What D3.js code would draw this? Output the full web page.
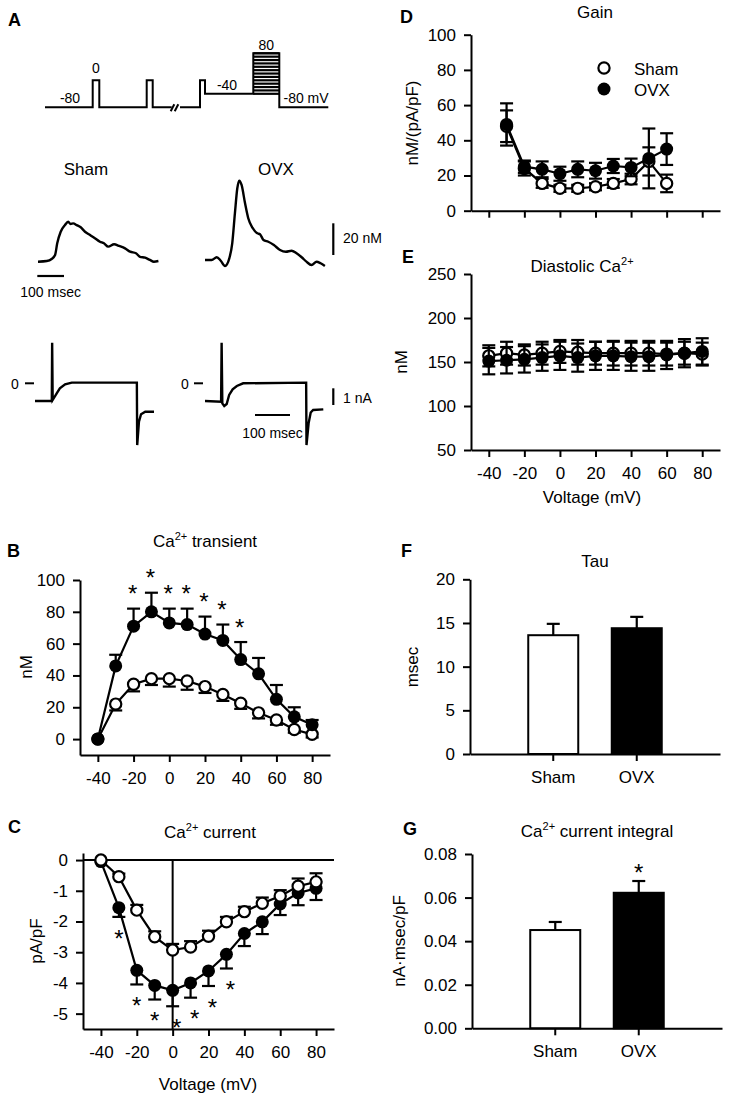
<!DOCTYPE html>
<html>
<head>
<meta charset="utf-8">
<script src="https://cdn.jsdelivr.net/npm/d3@7"></script>
<style>
  body { margin: 0; background: #fff; }
</style>
</head>
<body>
<div id="chart"></div>
<script>
// figure data
var volt = [-40, -30, -20, -10, 0, 10, 20, 30, 40, 50, 60, 70, 80];
var vTicks = [-40, -20, 0, 20, 40, 60, 80];

// B: Ca transient (nM)
var bSham = [0, 22, 34.5, 38, 38, 36.5, 33, 28, 22.5, 16.5, 12, 6, 3];
var bShamErr = [0, 4, 4.5, 4, 5, 5.5, 4, 4, 3.5, 3.5, 3, 2, 2];
var bOvx = [0, 46, 71, 80, 73, 72, 66, 62, 50, 41, 25, 14, 9];
var bOvxErr = [0, 7, 11, 12, 9, 10, 11, 10, 11, 10, 9, 6, 3];
var bStars = [-20, -10, 0, 10, 20, 30, 40];

// C: Ca current (pA/pF)
var cSham = [0, -0.54, -1.63, -2.5, -2.93, -2.83, -2.48, -2.01, -1.68, -1.41, -1.17, -0.85, -0.71];
var cShamErr = [0, 0.1, 0.17, 0.18, 0.2, 0.19, 0.18, 0.16, 0.16, 0.19, 0.19, 0.25, 0.28];
var cOvx = [-0.05, -1.55, -3.59, -4.08, -4.24, -4.0, -3.61, -3.07, -2.39, -2.01, -1.43, -1.07, -0.92];
var cOvxErr = [0, 0.3, 0.46, 0.46, 0.52, 0.48, 0.49, 0.46, 0.41, 0.4, 0.36, 0.4, 0.38];
var cStars = [-30, -20, -10, 0, 10, 20, 30];

// D: gain
var dVolt = [-30, -20, -10, 0, 10, 20, 30, 40, 50, 60];
var dSham = [48, 24, 15.5, 12.7, 12.7, 13.6, 15.5, 18, 28, 15.5];
var dShamErr = [9, 4, 2.5, 2, 2, 2, 2.5, 3, 8, 5];
var dOvx = [49, 25, 23.5, 21, 23.5, 22.7, 25.4, 24.6, 29.7, 35];
var dOvxErr = [12, 3.5, 4.5, 4, 4.5, 4.5, 4, 5, 17, 9];

// E: diastolic Ca (nM)
var eSham = [157, 160, 158, 160, 162, 161, 160, 160, 160, 160, 159, 160, 159];
var eShamErr = [12, 13, 12, 13, 13, 14, 13, 14, 14, 14, 13, 13, 13];
var eOvx = [151, 152, 153, 155, 157, 155, 157, 157, 156, 156, 158, 160, 162];
var eOvxErr = [15, 15, 15, 15, 16, 16, 16, 16, 16, 16, 16, 16, 15];

// F, G: bars
var groups = ["Sham", "OVX"];
var tauMean = [13.6, 14.4];
var tauErr = [1.3, 1.3];
var intMean = [0.0451, 0.0622];
var intErr = [0.0037, 0.0054];
var intStars = ["OVX"];

// A: protocol [time, mV]
var protoA = [[0, -80], [47.7, -80], [47.7, 0], [54.3, 0], [54.3, -80], [101.7, -80], [101.7, 0], [107.7, 0], [107.7, -80], [126.7, -80]];
var protoB = [[135, -80], [155, -80], [155, 0], [160, 0], [160, -40], [208.3, -40], [208.3, 80], [234.3, 80], [234.3, -80], [283.3, -80]];
var stepLevels = [-40, -30, -20, -10, 0, 10, 20, 30, 40, 50, 60, 70, 80];

// A: example traces [msec, nM] and [msec, nA]
var trShamCa = [[0, 0.2], [33, 0.6], [51, 1.9], [64, 4.4], [72, 11.8], [85, 19.1], [101, 23.3], [113, 25.4], [122, 24], [132, 24.4], [145, 23.3], [160, 21.9], [176, 19.1], [195, 17], [213, 15], [232, 12.8], [247, 11.8], [263, 9.7], [285, 11.2], [304, 10.1], [326, 8.6], [345, 6.5], [367, 5.5], [382, 3.3], [401, 2.7], [419, 1.3], [434, 0.2], [451, 0.6]];
var trOvxCa = [[0, 1.3], [25, 1.3], [44, 3], [59, 0.8], [75, -2.5], [91, 2.3], [102, 11.8], [112, 30.7], [121, 46.5], [128, 51.3], [137, 48.6], [150, 37], [162, 27.6], [179, 21.3], [196, 18.1], [206, 17.5], [219, 13.9], [237, 12.8], [258, 10.7], [281, 7.6], [303, 6.5], [324, 7.1], [343, 5.5], [362, 3], [380, 0.2], [399, -1.9], [418, 0.2], [433, -0.8], [449, -2.5]];
var trShamI = [[0, -1.06], [48, -1.06], [49, 2.43], [50.5, -1.0], [55, -0.85], [62, -0.6], [71, -0.3], [86, -0.06], [105, 0.04], [291, 0.04], [292, -3.7], [297, -2.3], [303, -1.85], [315, -1.7], [340, -1.7]];
var trOvxI = [[0, -1.06], [46, -1.1], [47.5, 2.43], [49.5, -1.2], [55, -1.36], [62, -1.24], [69, -0.7], [79, -0.36], [91, -0.16], [109, 0], [289, 0.04], [290, -3.7], [296, -2.4], [302, -1.75], [309, -1.6], [338, -1.56]];

var FONT = "'Liberation Sans', Arial, Helvetica, sans-serif";
var plain = function(d) { return String(d); };

var svg = d3.select("#chart").append("svg")
  .attr("width", 730).attr("height", 1103)
  .style("display", "block")
  .attr("font-family", FONT);

svg.append("rect").attr("width", 730).attr("height", 1103).attr("fill", "#fff");

function label(x, y, txt, size, opts) {
  opts = opts || {};
  return svg.append("text")
    .attr("x", x).attr("y", y)
    .attr("font-size", size)
    .attr("font-weight", opts.bold ? "bold" : null)
    .attr("text-anchor", opts.anchor || "start")
    .attr("fill", "#000")
    .text(txt);
}

// "pre Ca2+ rest" with a superscript
function caLabel(x, y, pre, rest) {
  var t = svg.append("text").attr("x", x).attr("y", y)
    .attr("font-size", 17).attr("text-anchor", "middle").attr("fill", "#000");
  t.append("tspan").text(pre + "Ca");
  t.append("tspan").attr("dy", -7).attr("font-size", 11).text("2+");
  if (rest) t.append("tspan").attr("dy", 7).text(rest);
  return t;
}

function yTitle(x, y, txt) {
  svg.append("text")
    .attr("transform", "translate(" + x + "," + y + ") rotate(-90)")
    .attr("font-size", 17).attr("text-anchor", "middle").attr("fill", "#000")
    .text(txt);
}

function styleAxis(g) {
  g.attr("font-family", FONT).attr("font-size", 17);
  g.select(".domain").attr("stroke-width", 2);
  g.selectAll(".tick line").attr("stroke-width", 2);
  g.selectAll(".tick text").attr("fill", "#000");
}

function star(x, cy) {
  // asterisk centre ~0.57em above baseline
  svg.append("text").attr("x", x).attr("y", cy + 0.57 * 24)
    .attr("font-size", 24).attr("text-anchor", "middle").text("*");
}

// draws one series: line, error bars, markers
function series(g, x, y, xs, vals, errs, dir, open) {
  var pts = xs.map(function(v, i) { return {v: v, m: vals[i], e: errs[i]}; });
  g.append("path")
    .datum(pts)
    .attr("fill", "none").attr("stroke", "#000").attr("stroke-width", 2.2)
    .attr("d", d3.line().x(function(d) { return x(d.v); }).y(function(d) { return y(d.m); }));
  var cap = 6.5;
  pts.forEach(function(d) {
    if (!d.e) return;
    var lo = dir === "up" ? d.m : d.m - d.e;
    var hi = dir === "down" ? d.m : d.m + d.e;
    g.append("line").attr("x1", x(d.v)).attr("x2", x(d.v))
      .attr("y1", y(lo)).attr("y2", y(hi)).attr("stroke", "#000").attr("stroke-width", 2.2);
    if (dir !== "down") g.append("line").attr("x1", x(d.v) - cap).attr("x2", x(d.v) + cap)
      .attr("y1", y(hi)).attr("y2", y(hi)).attr("stroke", "#000").attr("stroke-width", 2.2);
    if (dir !== "up") g.append("line").attr("x1", x(d.v) - cap).attr("x2", x(d.v) + cap)
      .attr("y1", y(lo)).attr("y2", y(lo)).attr("stroke", "#000").attr("stroke-width", 2.2);
  });
  g.selectAll(null).data(pts).enter().append("circle")
    .attr("cx", function(d) { return x(d.v); })
    .attr("cy", function(d) { return y(d.m); })
    .attr("r", open ? 5.6 : 6.5)
    .attr("fill", open ? "#fff" : "#000")
    .attr("stroke", "#000").attr("stroke-width", open ? 2.2 : 0);
}

/********** A **********/
label(8, 26, "A", 18, {bold: true});
var xP = d3.scaleLinear().domain([0, 283.3]).range([45, 328.3]);
var yP = d3.scaleLinear().domain([-80, 80]).range([107.3, 53.3]);
var protoLine = d3.line().x(function(d) { return xP(d[0]); }).y(function(d) { return yP(d[1]); });
[protoA, protoB].forEach(function(p) {
  svg.append("path").attr("d", protoLine(p)).attr("fill", "none")
    .attr("stroke", "#000").attr("stroke-width", 2);
});
// hatched step family
stepLevels.forEach(function(v) {
  svg.append("line").attr("x1", xP(208.3)).attr("x2", xP(234.3))
    .attr("y1", yP(v)).attr("y2", yP(v)).attr("stroke", "#000").attr("stroke-width", 2.2);
});
// break marks
[127.5, 131.5].forEach(function(t) {
  svg.append("line").attr("x1", xP(t) - 1.8).attr("x2", xP(t) + 1.8)
    .attr("y1", yP(-80) + 4).attr("y2", yP(-80) - 3).attr("stroke", "#000").attr("stroke-width", 2);
});
label(xP(25), yP(-80) - 4, "-80", 14, {anchor: "middle"});
label(xP(51), yP(0) - 7, "0", 14, {anchor: "middle"});
label(xP(182), yP(-40) - 4, "-40", 14, {anchor: "middle"});
label(xP(221.3), yP(80) - 3, "80", 14, {anchor: "middle"});
label(xP(238.5), yP(-80) - 4.5, "-80 mV", 14);

label(86, 175, "Sham", 17, {anchor: "middle"});
label(276, 175, "OVX", 17, {anchor: "middle"});

// Ca transient traces
var caY = d3.scaleLinear().domain([0, 20]).range([262, 230.3]);
function caX(x0) { return d3.scaleLinear().domain([0, 100]).range([x0, x0 + 26.7]); }
[[trShamCa, 38], [trOvxCa, 205]].forEach(function(t) {
  var xs = caX(t[1]);
  svg.append("path").attr("d", d3.line().curve(d3.curveMonotoneX)
      .x(function(d) { return xs(d[0]); }).y(function(d) { return caY(d[1]); })(t[0]))
    .attr("fill", "none").attr("stroke", "#000").attr("stroke-width", 2.4);
});
// scale bars
var sx = caX(37.3);
svg.append("line").attr("x1", sx(0)).attr("x2", sx(100)).attr("y1", 276).attr("y2", 276)
  .attr("stroke", "#000").attr("stroke-width", 2.2);
label(sx(50), 297, "100 msec", 14, {anchor: "middle"});
svg.append("line").attr("x1", 333.3).attr("x2", 333.3).attr("y1", 255).attr("y2", 255 - (caY(0) - caY(20)))
  .attr("stroke", "#000").attr("stroke-width", 2.2);
label(343, 243, "20 nM", 14);

// current traces
var iY = d3.scaleLinear().domain([0, 1]).range([383.3, 366.6]);
function iX(x0) { return d3.scaleLinear().domain([0, 100]).range([x0, x0 + 35]); }
[[trShamI, 35], [trOvxI, 205]].forEach(function(t) {
  var xs = iX(t[1]);
  svg.append("path").attr("d", d3.line()
      .x(function(d) { return xs(d[0]); }).y(function(d) { return iY(d[1]); })(t[0]))
    .attr("fill", "none").attr("stroke", "#000").attr("stroke-width", 2.4);
});
[[15, 25], [185, 194]].forEach(function(p) {
  label(p[0], 389, "0", 14, {anchor: "middle"});
  svg.append("line").attr("x1", p[1]).attr("x2", p[1] + 9).attr("y1", iY(0)).attr("y2", iY(0))
    .attr("stroke", "#000").attr("stroke-width", 2);
});
var ix = iX(255);
svg.append("line").attr("x1", ix(0)).attr("x2", ix(100)).attr("y1", 415).attr("y2", 415)
  .attr("stroke", "#000").attr("stroke-width", 2.2);
label(ix(50), 438, "100 msec", 14, {anchor: "middle"});
svg.append("line").attr("x1", 333.3).attr("x2", 333.3).attr("y1", 388.3).attr("y2", 388.3 + (iY(0) - iY(1)))
  .attr("stroke", "#000").attr("stroke-width", 2.2);
label(343, 403, "1 nA", 14);

/********** B **********/
label(7, 557, "B", 18, {bold: true});
caLabel(205, 547, "", " transient");
var xB = d3.scaleLinear().domain([-50, 90]).range([80, 330]);
var yB = d3.scaleLinear().domain([-10, 100]).range([755, 580]);
var gB = svg.append("g");
gB.append("g").attr("transform", "translate(0,755)")
  .call(d3.axisBottom(xB).tickValues(vTicks).tickFormat(plain).tickSize(7).tickPadding(10).tickSizeOuter(0)).call(styleAxis);
gB.append("g").attr("transform", "translate(80,0)")
  .call(d3.axisLeft(yB).tickValues([0, 20, 40, 60, 80, 100]).tickFormat(plain).tickSize(7).tickPadding(8).tickSizeOuter(0)).call(styleAxis);
yTitle(32, 667, "nM");
series(gB, xB, yB, volt, bSham, bShamErr, "down", true);
series(gB, xB, yB, volt, bOvx, bOvxErr, "up", false);
bStars.forEach(function(v) {
  var i = volt.indexOf(v);
  star(xB(v) - 1, yB(bOvx[i] + bOvxErr[i]) - 20);
});

/********** C **********/
label(8, 833, "C", 18, {bold: true});
caLabel(210, 838, "", " current");
var xC = d3.scaleLinear().domain([-50, 90]).range([83, 334]);
var yC = d3.scaleLinear().domain([-5.5, 0.23]).range([1029, 853]);
var gC = svg.append("g");
gC.append("g").attr("transform", "translate(0,1029)")
  .call(d3.axisBottom(xC).tickValues(vTicks).tickFormat(plain).tickSize(7).tickPadding(10).tickSizeOuter(0)).call(styleAxis);
gC.append("g").attr("transform", "translate(83,0)")
  .call(d3.axisLeft(yC).tickValues([0, -1, -2, -3, -4, -5]).tickFormat(plain).tickSize(7).tickPadding(8).tickSizeOuter(0)).call(styleAxis);
gC.append("line").attr("x1", 83).attr("x2", 334).attr("y1", yC(0)).attr("y2", yC(0))
  .attr("stroke", "#000").attr("stroke-width", 2);
gC.append("line").attr("x1", xC(0)).attr("x2", xC(0)).attr("y1", yC(0)).attr("y2", 1029)
  .attr("stroke", "#000").attr("stroke-width", 2);
yTitle(42, 941, "pA/pF");
label(208, 1090, "Voltage (mV)", 17, {anchor: "middle"});
series(gC, xC, yC, volt, cOvx, cOvxErr, "down", false);
series(gC, xC, yC, volt, cSham, cShamErr, "up", true);
cStars.forEach(function(v) {
  var i = volt.indexOf(v);
  star(xC(v) + (v >= 0 ? 4 : 0), yC(cOvx[i] - cOvxErr[i]) + 16);
});

/********** D **********/
label(400, 23, "D", 18, {bold: true});
label(595, 18, "Gain", 17, {anchor: "middle"});
var xD = d3.scaleLinear().domain([-50, 90]).range([471, 720]);
var yD = d3.scaleLinear().domain([0, 100]).range([210.7, 34.7]);
var gD = svg.append("g");
gD.append("g").attr("transform", "translate(0,210.7)")
  .call(d3.axisBottom(xD).tickValues(vTicks).tickSize(7).tickFormat("").tickSizeOuter(0)).call(styleAxis);
gD.append("g").attr("transform", "translate(471,0)")
  .call(d3.axisLeft(yD).tickValues([0, 20, 40, 60, 80, 100]).tickFormat(plain).tickSize(7).tickPadding(8).tickSizeOuter(0)).call(styleAxis);
yTitle(418, 123, "nM/(pA/pF)");
series(gD, xD, yD, dVolt, dSham, dShamErr, "both", true);
series(gD, xD, yD, dVolt, dOvx, dOvxErr, "both", false);
// legend
gD.append("circle").attr("cx", 604).attr("cy", 68).attr("r", 5.6).attr("fill", "#fff").attr("stroke", "#000").attr("stroke-width", 2.2);
gD.append("circle").attr("cx", 604).attr("cy", 89).attr("r", 6.5).attr("fill", "#000");
label(634, 75, "Sham", 17);
label(634, 96, "OVX", 17);

/********** E **********/
label(402, 263, "E", 18, {bold: true});
caLabel(582, 272, "Diastolic ", "");
var xE = d3.scaleLinear().domain([-50, 90]).range([471, 720]);
var yE = d3.scaleLinear().domain([50, 250]).range([450, 274]);
var gE = svg.append("g");
gE.append("g").attr("transform", "translate(0,450)")
  .call(d3.axisBottom(xE).tickValues(vTicks).tickFormat(plain).tickSize(7).tickPadding(10).tickSizeOuter(0)).call(styleAxis);
gE.append("g").attr("transform", "translate(471,0)")
  .call(d3.axisLeft(yE).tickValues([50, 100, 150, 200, 250]).tickFormat(plain).tickSize(7).tickPadding(8).tickSizeOuter(0)).call(styleAxis);
yTitle(407, 362, "nM");
label(592, 503, "Voltage (mV)", 17, {anchor: "middle"});
series(gE, xE, yE, volt, eSham, eShamErr, "both", true);
series(gE, xE, yE, volt, eOvx, eOvxErr, "both", false);

/********** F & G bars **********/
function barPanel(opt) {
  var x = d3.scaleBand().domain(groups).range([opt.x0, opt.x0 + 250]).paddingInner(0).paddingOuter(0.497);
  var y = d3.scaleLinear().domain(opt.domain).range([opt.yBottom, opt.yTop]);
  var g = svg.append("g");
  var bw = 50;
  g.selectAll(null).data(groups).enter().append("rect")
    .attr("x", function(d) { return x(d) + x.bandwidth() / 2 - bw / 2; })
    .attr("width", bw)
    .attr("y", function(d, i) { return y(opt.mean[i]); })
    .attr("height", function(d, i) { return y(opt.domain[0]) - y(opt.mean[i]); })
    .attr("fill", function(d, i) { return i === 0 ? "#fff" : "#000"; })
    .attr("stroke", "#000").attr("stroke-width", 2);
  groups.forEach(function(d, i) {
    var cx = x(d) + x.bandwidth() / 2;
    g.append("line").attr("x1", cx).attr("x2", cx)
      .attr("y1", y(opt.mean[i])).attr("y2", y(opt.mean[i] + opt.err[i]))
      .attr("stroke", "#000").attr("stroke-width", 2.2);
    g.append("line").attr("x1", cx - 6.5).attr("x2", cx + 6.5)
      .attr("y1", y(opt.mean[i] + opt.err[i])).attr("y2", y(opt.mean[i] + opt.err[i]))
      .attr("stroke", "#000").attr("stroke-width", 2.2);
    if (opt.stars && opt.stars.indexOf(d) >= 0) star(cx, y(opt.mean[i] + opt.err[i]) - 14);
  });
  g.append("g").attr("transform", "translate(0," + opt.yBottom + ")")
    .call(d3.axisBottom(x).tickSize(7).tickPadding(10).tickSizeOuter(0)).call(styleAxis);
  g.append("g").attr("transform", "translate(" + opt.x0 + ",0)")
    .call(d3.axisLeft(y).tickValues(opt.ticks).tickSize(7).tickPadding(8).tickSizeOuter(0)
      .tickFormat(opt.fmt ? d3.format(opt.fmt) : plain)).call(styleAxis);
}

label(401, 557, "F", 18, {bold: true});
label(595, 567, "Tau", 17, {anchor: "middle"});
yTitle(418, 667, "msec");
barPanel({x0: 470, yBottom: 754, yTop: 579.3, domain: [0, 20], ticks: [0, 5, 10, 15, 20],
  mean: tauMean, err: tauErr});

label(403, 835, "G", 18, {bold: true});
caLabel(597, 837, "", " current integral");
yTitle(405, 941, "nA\u00b7msec/pF");
barPanel({x0: 472, yBottom: 1028.3, yTop: 854, domain: [0, 0.08], ticks: [0, 0.02, 0.04, 0.06, 0.08],
  fmt: ".2f", mean: intMean, err: intErr, stars: intStars});
</script>
</body>
</html>
